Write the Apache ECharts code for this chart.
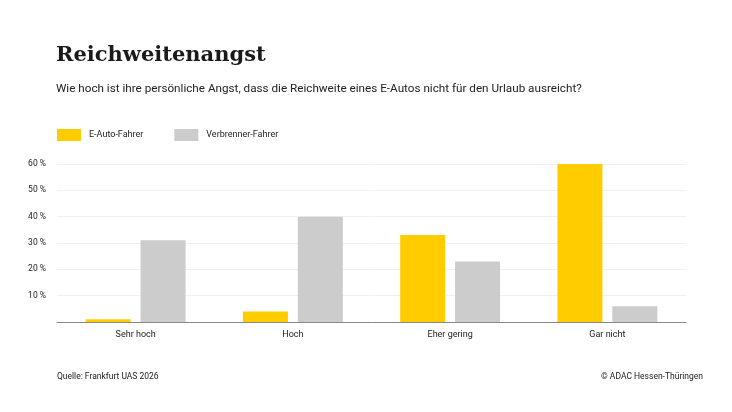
<!DOCTYPE html>
<html><head><meta charset="utf-8">
<script src="https://cdn.jsdelivr.net/npm/echarts@6/dist/echarts.min.js"></script>
<style>html,body{margin:0;padding:0;background:#fff}#c{width:732px;height:412px}</style>
</head><body><div id="c"></div>
<script>
const categories = ["Sehr hoch", "Hoch", "Eher gering", "Gar nicht"];
const eAuto = [1, 4, 33, 60];
const verbrenner = [31, 40, 23, 6];
const seriesNames = ["E-Auto-Fahrer", "Verbrenner-Fahrer"];

const chart = echarts.init(document.getElementById('c'));
chart.setOption({
  animation: false,
  backgroundColor: '#fff',
  title: [
    {text: 'Reichweitenangst', left: 51, top: 40, textStyle: {fontFamily: 'DejaVu Serif', fontWeight: 'bold', fontSize: 21, color: '#1a1a1a'}},
    {text: 'Wie hoch ist ihre persönliche Angst, dass die Reichweite eines E-Autos nicht für den Urlaub ausreicht?', left: 51, top: 78, textStyle: {fontFamily: 'Roboto', fontWeight: 'normal', fontSize: 11.7, color: '#222'}},
    {text: 'Quelle: Frankfurt UAS 2026', left: 52, top: 367, textStyle: {fontFamily: 'Roboto', fontWeight: 'normal', fontSize: 8.5, color: '#222'}},
    {text: '© ADAC Hessen-Thüringen', right: 24, top: 367, textStyle: {fontFamily: 'Roboto', fontWeight: 'normal', fontSize: 8.5, color: '#222'}}
  ],
  legend: {
    left: 52, top: 124, itemWidth: 24, itemHeight: 12, itemGap: 31,
    icon: 'rect',
    textStyle: {fontFamily: 'Roboto', fontSize: 9, color: '#222', padding: [0, 0, 0, 3]},
    data: seriesNames
  },
  grid: {left: 57, right: 46, top: 164, bottom: 90},
  xAxis: {
    type: 'category', data: categories,
    axisLine: {lineStyle: {color: '#888', width: 1}},
    axisTick: {show: false},
    axisLabel: {fontFamily: 'Roboto', fontSize: 9, color: '#222', margin: 8}
  },
  yAxis: {
    type: 'value', min: 0, max: 60, interval: 10,
    axisLabel: {fontFamily: 'Roboto', fontSize: 8.5, color: '#222', margin: 11,
      formatter: v => v === 0 ? '' : v + ' %'},
    splitLine: {lineStyle: {color: '#f0f0f0'}},
    axisLine: {show: false}, axisTick: {show: false}
  },
  series: [
    {name: seriesNames[0], type: 'bar', data: eAuto, barWidth: 45, barGap: '22%', itemStyle: {color: '#FFCC00'}},
    {name: seriesNames[1], type: 'bar', data: verbrenner, barWidth: 45, itemStyle: {color: '#CCCCCC'}}
  ]
});
</script></body></html>
